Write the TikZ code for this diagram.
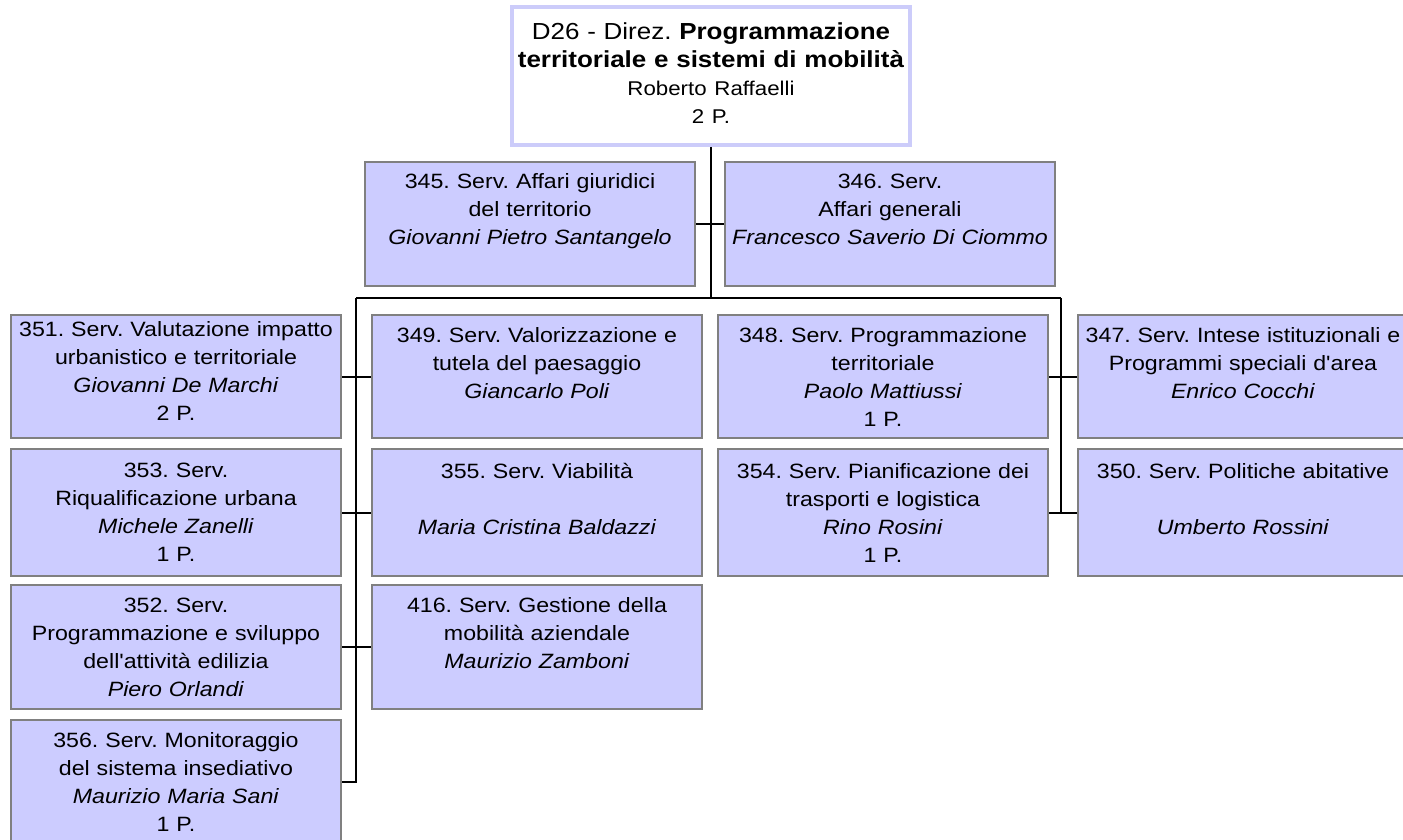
\documentclass[tikz,border=0pt]{standalone}
\usepackage{fontspec}
\setmainfont{Liberation Sans}[FakeStretch=1.12, Ligatures=TeXOff]
\definecolor{boxfill}{RGB}{204,204,255}
\definecolor{boxborder}{RGB}{128,128,128}
\definecolor{topborder}{RGB}{204,204,250}
\begin{document}
\frenchspacing
\begin{tikzpicture}[x=1pt,y=-1pt,
  unit/.style={draw=boxborder, line width=2pt, fill=boxfill, anchor=north west,
    minimum width=330pt, inner sep=0pt, text width=326pt, align=center,
    font=\fontsize{20.7}{28}\selectfont},
  headbox/.style={draw=topborder, line width=4pt, fill=white, anchor=north west,
    minimum width=398pt, minimum height=138pt, inner sep=0pt, text width=390pt, align=center,
    font=\fontsize{23.2}{28}\selectfont},
  link/.style={draw=black, line width=2pt}]
\useasboundingbox (0,0) rectangle (1403,840);
\clip (0,0) rectangle (1403,840);
\fill[white] (0,0) rectangle (1403,840);
% head
\node[headbox] (top) at (510,5) {D26 - Direz. \textbf{Programmazione}\\\textbf{territoriale e sistemi di mobilità}\\{\fontsize{19.9}{28}\selectfont Roberto Raffaelli}\\{\fontsize{19.9}{28}\selectfont 2 P.}\\[-22pt]\mbox{}};
% row 1
\node[unit, minimum height=124pt] (n345) at (364,161) {345. Serv. Affari giuridici\\del territorio\\\textit{Giovanni Pietro Santangelo}\\[2pt]\mbox{}};
\node[unit, minimum height=124pt] (n346) at (724,161) {346. Serv.\\Affari generali\\\textit{Francesco Saverio Di Ciommo}\\[2pt]\mbox{}};
% row 2
\node[unit, minimum height=123pt] (n351) at (10,314) {351. Serv. Valutazione impatto\\urbanistico e territoriale\\\textit{Giovanni De Marchi}\\2 P.\\[-16pt]\mbox{}};
\node[unit, minimum height=123pt] (n349) at (371,314) {349. Serv. Valorizzazione e\\tutela del paesaggio\\\textit{Giancarlo Poli}\\\mbox{}};
\node[unit, minimum height=123pt] (n348) at (717,314) {348. Serv. Programmazione\\territoriale\\\textit{Paolo Mattiussi}\\1 P.};
\node[unit, minimum height=123pt] (n347) at (1077,314) {347. Serv. Intese istituzionali e\\Programmi speciali d'area\\\textit{Enrico Cocchi}\\\mbox{}};
% row 3
\node[unit, minimum height=127pt] (n353) at (10,448) {353. Serv.\\Riqualificazione urbana\\\textit{Michele Zanelli}\\1 P.};
\node[unit, minimum height=127pt] (n355) at (371,448) {355. Serv. Viabilità\\\mbox{}\\\textit{Maria Cristina Baldazzi}\\\mbox{}};
\node[unit, minimum height=127pt] (n354) at (717,448) {354. Serv. Pianificazione dei\\trasporti e logistica\\\textit{Rino Rosini}\\1 P.};
\node[unit, minimum height=127pt] (n350) at (1077,448) {350. Serv. Politiche abitative\\\mbox{}\\\textit{Umberto Rossini}\\\mbox{}};
% row 4
\node[unit, minimum height=124pt] (n352) at (10,584) {352. Serv.\\Programmazione e sviluppo\\dell'attività edilizia\\\textit{Piero Orlandi}};
\node[unit, minimum height=124pt] (n416) at (371,584) {416. Serv. Gestione della\\mobilità aziendale\\\textit{Maurizio Zamboni}\\\mbox{}};
% row 5
\node[unit, minimum height=124pt] (n356) at (10,719) {356. Serv. Monitoraggio\\del sistema insediativo\\\textit{Maurizio Maria Sani}\\1 P.};
% connectors
\coordinate (bl) at (356,298);
\coordinate (br) at (1061,298);
\coordinate (bm) at (top.south |- bl);
\draw[link] (top.south) -- (bm);
\draw[link] (n345.east) -- (n346.west);
\draw[link] (bl) -- (br);
\draw[link] (bl) -- (bl |- n356.east) -- (n356.east);
\draw[link] (n351.east) -- (n349.west);
\draw[link] (n353.east) -- (n355.west);
\draw[link] (n352.east) -- (n416.west);
\draw[link] (br) -- (br |- n354.east);
\draw[link] (n348.east) -- (n347.west);
\draw[link] (n354.east) -- (n350.west);
\end{tikzpicture}
\end{document}
